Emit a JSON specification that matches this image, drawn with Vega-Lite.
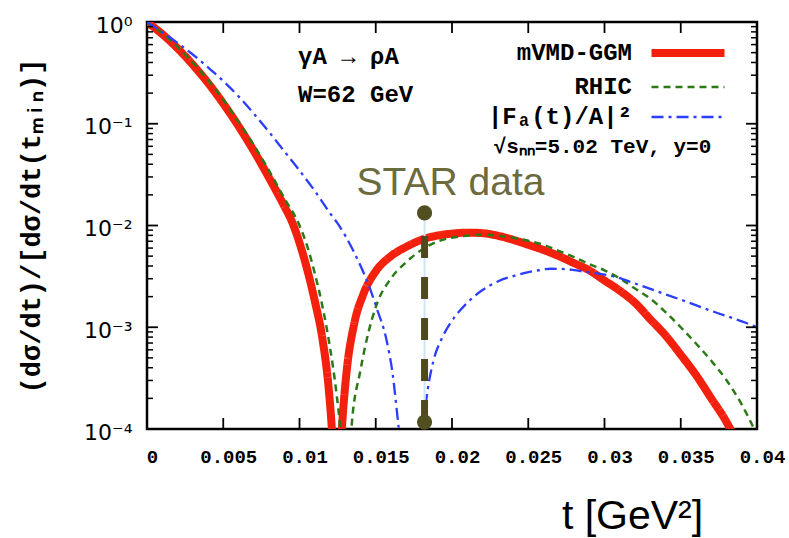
{
"$schema": "https://vega.github.io/schema/vega-lite/v6.json",
"width": 610, "height": 407,
"autosize": {"type": "none"},
"padding": {"left": 147, "top": 22, "right": 32, "bottom": 109},
"background": "white",
"config": {
  "view": {"stroke": "black", "strokeWidth": 2.5},
  "axis": {"domain": false, "ticks": false, "grid": false, "labelFlush": false, "labelOverlap": false},
  "legend": {"orient": "none", "legendX": 522, "legendY": 12, "symbolType": "M-2.5,0H2.5", "symbolSize": 852, "labelFont": "Liberation Mono", "labelFontWeight": "bold", "labelFontSize": 24, "labelColor": "black", "labelAlign": "right", "labelOffset": -75, "rowPadding": 2, "padding": 0, "symbolOpacity": 1, "symbolFillColor": "transparent"}
},
"datasets": {
  "curves": [
    {"t":0,"v":1,"s":"mVMD-GGM"},{"t":0.001,"v":0.7603,"s":"mVMD-GGM"},{"t":0.002,"v":0.5521,"s":"mVMD-GGM"},{"t":0.003,"v":0.3811,"s":"mVMD-GGM"},{"t":0.004,"v":0.2518,"s":"mVMD-GGM"},{"t":0.005,"v":0.1581,"s":"mVMD-GGM"},{"t":0.006,"v":0.0948,"s":"mVMD-GGM"},{"t":0.007,"v":0.0542,"s":"mVMD-GGM"},{"t":0.008,"v":0.0295,"s":"mVMD-GGM"},{"t":0.009,"v":0.0155,"s":"mVMD-GGM"},{"t":0.0095,"v":0.01096,"s":"mVMD-GGM"},{"t":0.01,"v":0.00676,"s":"mVMD-GGM"},{"t":0.0105,"v":0.00372,"s":"mVMD-GGM"},{"t":0.011,"v":0.00182,"s":"mVMD-GGM"},{"t":0.0115,"v":0.000776,"s":"mVMD-GGM"},{"t":0.0119,"v":0.000263,"s":"mVMD-GGM"},{"t":0.0121,"v":0.000112,"s":"mVMD-GGM"},{"t":0.01245,"v":0.00001,"s":"mVMD-GGM"},{"t":0.0128,"v":0.000112,"s":"mVMD-GGM"},{"t":0.0131,"v":0.00038,"s":"mVMD-GGM"},{"t":0.01355,"v":0.00102,"s":"mVMD-GGM"},{"t":0.0142,"v":0.00214,"s":"mVMD-GGM"},{"t":0.015,"v":0.00355,"s":"mVMD-GGM"},{"t":0.016,"v":0.00501,"s":"mVMD-GGM"},{"t":0.017,"v":0.00617,"s":"mVMD-GGM"},{"t":0.018,"v":0.00724,"s":"mVMD-GGM"},{"t":0.019,"v":0.00794,"s":"mVMD-GGM"},{"t":0.02,"v":0.00832,"s":"mVMD-GGM"},{"t":0.021,"v":0.00851,"s":"mVMD-GGM"},{"t":0.022,"v":0.00841,"s":"mVMD-GGM"},{"t":0.023,"v":0.00794,"s":"mVMD-GGM"},{"t":0.024,"v":0.00724,"s":"mVMD-GGM"},{"t":0.025,"v":0.00646,"s":"mVMD-GGM"},{"t":0.026,"v":0.00575,"s":"mVMD-GGM"},{"t":0.027,"v":0.00501,"s":"mVMD-GGM"},{"t":0.028,"v":0.00427,"s":"mVMD-GGM"},{"t":0.029,"v":0.00363,"s":"mVMD-GGM"},{"t":0.03,"v":0.00288,"s":"mVMD-GGM"},{"t":0.031,"v":0.00229,"s":"mVMD-GGM"},{"t":0.032,"v":0.00174,"s":"mVMD-GGM"},{"t":0.033,"v":0.0012,"s":"mVMD-GGM"},{"t":0.034,"v":0.000832,"s":"mVMD-GGM"},{"t":0.035,"v":0.000537,"s":"mVMD-GGM"},{"t":0.036,"v":0.000339,"s":"mVMD-GGM"},{"t":0.037,"v":0.0002,"s":"mVMD-GGM"},{"t":0.038,"v":0.000117,"s":"mVMD-GGM"},{"t":0.0385,"v":0.0000832,"s":"mVMD-GGM"},{"t":0.039,"v":0.0000501,"s":"mVMD-GGM"},
    {"t":0,"v":1,"s":"RHIC"},{"t":0.001,"v":0.776,"s":"RHIC"},{"t":0.002,"v":0.569,"s":"RHIC"},{"t":0.003,"v":0.398,"s":"RHIC"},{"t":0.004,"v":0.269,"s":"RHIC"},{"t":0.005,"v":0.172,"s":"RHIC"},{"t":0.006,"v":0.105,"s":"RHIC"},{"t":0.007,"v":0.0617,"s":"RHIC"},{"t":0.008,"v":0.0347,"s":"RHIC"},{"t":0.009,"v":0.0186,"s":"RHIC"},{"t":0.01,"v":0.01,"s":"RHIC"},{"t":0.0105,"v":0.00631,"s":"RHIC"},{"t":0.011,"v":0.00339,"s":"RHIC"},{"t":0.0115,"v":0.00162,"s":"RHIC"},{"t":0.012,"v":0.000631,"s":"RHIC"},{"t":0.0124,"v":0.00024,"s":"RHIC"},{"t":0.0127,"v":0.0000891,"s":"RHIC"},{"t":0.01305,"v":0.00001,"s":"RHIC"},{"t":0.0134,"v":0.0001,"s":"RHIC"},{"t":0.014,"v":0.00038,"s":"RHIC"},{"t":0.015,"v":0.00158,"s":"RHIC"},{"t":0.016,"v":0.00302,"s":"RHIC"},{"t":0.017,"v":0.00437,"s":"RHIC"},{"t":0.018,"v":0.00575,"s":"RHIC"},{"t":0.019,"v":0.00692,"s":"RHIC"},{"t":0.02,"v":0.00759,"s":"RHIC"},{"t":0.021,"v":0.00794,"s":"RHIC"},{"t":0.022,"v":0.00813,"s":"RHIC"},{"t":0.023,"v":0.00794,"s":"RHIC"},{"t":0.024,"v":0.00759,"s":"RHIC"},{"t":0.025,"v":0.00708,"s":"RHIC"},{"t":0.026,"v":0.00646,"s":"RHIC"},{"t":0.027,"v":0.00562,"s":"RHIC"},{"t":0.028,"v":0.0049,"s":"RHIC"},{"t":0.029,"v":0.00417,"s":"RHIC"},{"t":0.03,"v":0.00363,"s":"RHIC"},{"t":0.031,"v":0.00302,"s":"RHIC"},{"t":0.032,"v":0.0024,"s":"RHIC"},{"t":0.033,"v":0.00191,"s":"RHIC"},{"t":0.034,"v":0.00141,"s":"RHIC"},{"t":0.035,"v":0.001,"s":"RHIC"},{"t":0.036,"v":0.000692,"s":"RHIC"},{"t":0.037,"v":0.000468,"s":"RHIC"},{"t":0.038,"v":0.000302,"s":"RHIC"},{"t":0.039,"v":0.000174,"s":"RHIC"},{"t":0.04,"v":0.0000871,"s":"RHIC"},
    {"t":0,"v":1,"s":"|Fₐ(t)/A|²"},{"t":0.001,"v":0.794,"s":"|Fₐ(t)/A|²"},{"t":0.002,"v":0.624,"s":"|Fₐ(t)/A|²"},{"t":0.003,"v":0.479,"s":"|Fₐ(t)/A|²"},{"t":0.004,"v":0.359,"s":"|Fₐ(t)/A|²"},{"t":0.005,"v":0.263,"s":"|Fₐ(t)/A|²"},{"t":0.006,"v":0.186,"s":"|Fₐ(t)/A|²"},{"t":0.007,"v":0.126,"s":"|Fₐ(t)/A|²"},{"t":0.008,"v":0.0832,"s":"|Fₐ(t)/A|²"},{"t":0.009,"v":0.0537,"s":"|Fₐ(t)/A|²"},{"t":0.01,"v":0.0347,"s":"|Fₐ(t)/A|²"},{"t":0.011,"v":0.0219,"s":"|Fₐ(t)/A|²"},{"t":0.012,"v":0.0132,"s":"|Fₐ(t)/A|²"},{"t":0.0125,"v":0.0105,"s":"|Fₐ(t)/A|²"},{"t":0.013,"v":0.00794,"s":"|Fₐ(t)/A|²"},{"t":0.0136,"v":0.00537,"s":"|Fₐ(t)/A|²"},{"t":0.0146,"v":0.00245,"s":"|Fₐ(t)/A|²"},{"t":0.0151,"v":0.00148,"s":"|Fₐ(t)/A|²"},{"t":0.0157,"v":0.000759,"s":"|Fₐ(t)/A|²"},{"t":0.0161,"v":0.000355,"s":"|Fₐ(t)/A|²"},{"t":0.0165,"v":0.000105,"s":"|Fₐ(t)/A|²"},{"t":0.01735,"v":0.00001,"s":"|Fₐ(t)/A|²"},{"t":0.0181,"v":0.000105,"s":"|Fₐ(t)/A|²"},{"t":0.0184,"v":0.00024,"s":"|Fₐ(t)/A|²"},{"t":0.0188,"v":0.000479,"s":"|Fₐ(t)/A|²"},{"t":0.0193,"v":0.000759,"s":"|Fₐ(t)/A|²"},{"t":0.0199,"v":0.0011,"s":"|Fₐ(t)/A|²"},{"t":0.021,"v":0.00174,"s":"|Fₐ(t)/A|²"},{"t":0.022,"v":0.00232,"s":"|Fₐ(t)/A|²"},{"t":0.023,"v":0.00282,"s":"|Fₐ(t)/A|²"},{"t":0.0242,"v":0.00324,"s":"|Fₐ(t)/A|²"},{"t":0.0255,"v":0.00359,"s":"|Fₐ(t)/A|²"},{"t":0.0265,"v":0.00376,"s":"|Fₐ(t)/A|²"},{"t":0.0275,"v":0.00372,"s":"|Fₐ(t)/A|²"},{"t":0.0285,"v":0.00355,"s":"|Fₐ(t)/A|²"},{"t":0.0295,"v":0.00339,"s":"|Fₐ(t)/A|²"},{"t":0.0306,"v":0.00316,"s":"|Fₐ(t)/A|²"},{"t":0.032,"v":0.00269,"s":"|Fₐ(t)/A|²"},{"t":0.0335,"v":0.00224,"s":"|Fₐ(t)/A|²"},{"t":0.0352,"v":0.00182,"s":"|Fₐ(t)/A|²"},{"t":0.037,"v":0.00145,"s":"|Fₐ(t)/A|²"},{"t":0.0393,"v":0.0011,"s":"|Fₐ(t)/A|²"},{"t":0.04,"v":0.001,"s":"|Fₐ(t)/A|²"}
  ],
  "star": [{"t":0.0182,"v":0.0133},{"t":0.0182,"v":0.000117}],
  "notesLeft": [{"t":0.0099,"v":0.386,"text":"γA → ρA"},{"t":0.0099,"v":0.165,"text":"W=62 GeV"}],
  "notesRight": [{"t":0.037,"v":0.0513,"text":"√sₙₙ=5.02 TeV, y=0"}],
  "starLabel": [{"t":0.0199,"v":0.02,"text":"STAR data"}],
  "xTicks": [{"t":0.005},{"t":0.01},{"t":0.015},{"t":0.02},{"t":0.025},{"t":0.03},{"t":0.035}],
  "yMajor": [{"v":0.001},{"v":0.01},{"v":0.1}],
  "yMinor": [{"v":0.0002},{"v":0.0003},{"v":0.0004},{"v":0.0005},{"v":0.0006},{"v":0.0007},{"v":0.0008},{"v":0.0009},{"v":0.002},{"v":0.003},{"v":0.004},{"v":0.005},{"v":0.006},{"v":0.007},{"v":0.008},{"v":0.009},{"v":0.02},{"v":0.03},{"v":0.04},{"v":0.05},{"v":0.06},{"v":0.07},{"v":0.08},{"v":0.09},{"v":0.2},{"v":0.3},{"v":0.4},{"v":0.5},{"v":0.6},{"v":0.7},{"v":0.8},{"v":0.9}]
},
"resolve": {"axis": {"x": "independent", "y": "independent"}},
"layer": [
  {
    "data": {"name": "curves"},
    "mark": {"type": "line", "clip": true, "interpolate": "monotone", "strokeCap": "butt"},
    "encoding": {
      "x": {"field": "t", "type": "quantitative", "scale": {"domain": [0, 0.04], "nice": false, "zero": false},
        "axis": {"orient": "bottom", "values": [0,0.005,0.01,0.015,0.02,0.025,0.03,0.035,0.04], "labelExpr": "format(datum.value, '~g')",
          "labelFont": "Liberation Mono", "labelFontWeight": "bold", "labelFontSize": 19, "labelColor": "black", "labelPadding": 18, "labelOffset": 5,
          "title": "t [GeV²]", "titleFont": "Liberation Sans", "titleFontSize": 41, "titleFontWeight": "normal", "titleColor": "black", "titleX": 485, "titleY": 99, "titleBaseline": "alphabetic", "titleAlign": "center"}},
      "y": {"field": "v", "type": "quantitative", "scale": {"type": "log", "domain": [0.0001, 1], "nice": false},
        "axis": {"orient": "left", "values": [0.0001,0.001,0.01,0.1,1],
          "labelExpr": "datum.value > 0.5 ? '10⁰' : datum.value > 0.05 ? '10⁻¹' : datum.value > 0.005 ? '10⁻²' : datum.value > 0.0005 ? '10⁻³' : '10⁻⁴'",
          "labelFont": "DejaVu Sans", "labelFontSize": 22, "labelColor": "black", "labelPadding": 15, "labelOffset": 3,
          "title": "(dσ/dt)/[dσ/dt(tₘᵢₙ)]", "titleFont": "Liberation Mono", "titleFontSize": 27, "titleFontWeight": "bold", "titleColor": "black", "titlePadding": 38}},
      "color": {"field": "s", "type": "nominal", "scale": {"domain": ["mVMD-GGM", "RHIC", "|Fₐ(t)/A|²"], "range": ["#f2200c", "#2b7a17", "#2b3dff"]}, "legend": {"title": null}},
      "strokeDash": {"field": "s", "type": "nominal", "scale": {"domain": ["mVMD-GGM", "RHIC", "|Fₐ(t)/A|²"], "range": [[1,0],[7,5],[12,5,3,5]]}, "legend": {"title": null}},
      "strokeWidth": {"field": "s", "type": "nominal", "scale": {"type": "ordinal", "domain": ["mVMD-GGM", "RHIC", "|Fₐ(t)/A|²"], "range": [8, 2.5, 2.3]}, "legend": {"title": null}}
    }
  },
  {
    "data": {"name": "xTicks"},
    "mark": {"type": "tick", "orient": "vertical", "size": 22, "thickness": 1.8, "color": "black", "opacity": 1, "clip": true},
    "encoding": {
      "x": {"field": "t", "type": "quantitative", "axis": null},
      "y": {"datum": 0.0001, "type": "quantitative", "axis": null}
    }
  },
  {
    "data": {"name": "xTicks"},
    "mark": {"type": "tick", "orient": "vertical", "size": 22, "thickness": 1.8, "color": "black", "opacity": 1, "clip": true},
    "encoding": {
      "x": {"field": "t", "type": "quantitative", "axis": null},
      "y": {"datum": 1, "type": "quantitative", "axis": null}
    }
  },
  {
    "data": {"name": "yMajor"},
    "mark": {"type": "tick", "orient": "horizontal", "size": 22, "thickness": 1.8, "color": "black", "opacity": 1, "clip": true},
    "encoding": {
      "y": {"field": "v", "type": "quantitative", "axis": null},
      "x": {"datum": 0, "type": "quantitative", "axis": null}
    }
  },
  {
    "data": {"name": "yMajor"},
    "mark": {"type": "tick", "orient": "horizontal", "size": 22, "thickness": 1.8, "color": "black", "opacity": 1, "clip": true},
    "encoding": {
      "y": {"field": "v", "type": "quantitative", "axis": null},
      "x": {"datum": 0.04, "type": "quantitative", "axis": null}
    }
  },
  {
    "data": {"name": "yMinor"},
    "mark": {"type": "tick", "orient": "horizontal", "size": 12, "thickness": 1.5, "color": "black", "opacity": 1, "clip": true},
    "encoding": {
      "y": {"field": "v", "type": "quantitative", "axis": null},
      "x": {"datum": 0, "type": "quantitative", "axis": null}
    }
  },
  {
    "data": {"name": "yMinor"},
    "mark": {"type": "tick", "orient": "horizontal", "size": 12, "thickness": 1.5, "color": "black", "opacity": 1, "clip": true},
    "encoding": {
      "y": {"field": "v", "type": "quantitative", "axis": null},
      "x": {"datum": 0.04, "type": "quantitative", "axis": null}
    }
  },
  {
    "data": {"name": "star"},
    "mark": {"type": "line", "color": "#cfe5f5", "strokeWidth": 2},
    "encoding": {
      "x": {"field": "t", "type": "quantitative", "axis": null},
      "y": {"field": "v", "type": "quantitative", "axis": null},
      "order": {"field": "v", "type": "quantitative"}
    }
  },
  {
    "data": {"name": "star"},
    "mark": {"type": "line", "color": "#4f4a1e", "strokeWidth": 7, "strokeDash": [22, 19], "strokeCap": "butt"},
    "encoding": {
      "x": {"field": "t", "type": "quantitative", "axis": null},
      "y": {"field": "v", "type": "quantitative", "axis": null},
      "order": {"field": "v", "type": "quantitative"}
    }
  },
  {
    "data": {"name": "star"},
    "mark": {"type": "point", "filled": true, "size": 230, "color": "#514e1f", "opacity": 1},
    "encoding": {
      "x": {"field": "t", "type": "quantitative", "axis": null},
      "y": {"field": "v", "type": "quantitative", "axis": null}
    }
  },
  {
    "data": {"name": "notesLeft"},
    "mark": {"type": "text", "align": "left", "baseline": "alphabetic", "font": "Liberation Mono", "fontWeight": "bold", "fontSize": 24, "color": "black"},
    "encoding": {
      "x": {"field": "t", "type": "quantitative", "axis": null},
      "y": {"field": "v", "type": "quantitative", "axis": null},
      "text": {"field": "text", "type": "nominal"}
    }
  },
  {
    "data": {"name": "notesRight"},
    "mark": {"type": "text", "align": "right", "baseline": "alphabetic", "font": "Liberation Mono", "fontWeight": "bold", "fontSize": 21, "color": "black"},
    "encoding": {
      "x": {"field": "t", "type": "quantitative", "axis": null},
      "y": {"field": "v", "type": "quantitative", "axis": null},
      "text": {"field": "text", "type": "nominal"}
    }
  },
  {
    "data": {"name": "starLabel"},
    "mark": {"type": "text", "align": "center", "baseline": "alphabetic", "font": "Liberation Sans", "fontSize": 39, "color": "#6d6b3e"},
    "encoding": {
      "x": {"field": "t", "type": "quantitative", "axis": null},
      "y": {"field": "v", "type": "quantitative", "axis": null},
      "text": {"field": "text", "type": "nominal"}
    }
  }
]
}
